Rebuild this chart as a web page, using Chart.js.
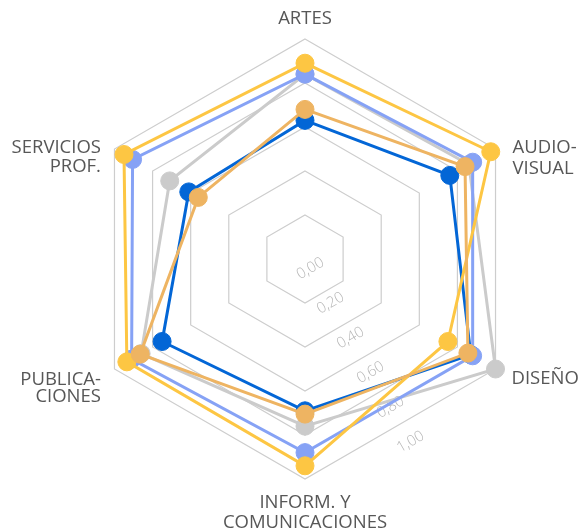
<!DOCTYPE html>
<html>
<head>
<meta charset="utf-8">
<script src="https://cdn.jsdelivr.net/npm/chart.js@4/dist/chart.umd.min.js"></script>
<style>
  body { margin: 0; background: #fff; }
</style>
</head>
<body>
<canvas id="radar" width="578" height="532"></canvas>
<script>
// Axis names, one entry per line of the label
const categories = [
  ['ARTES'],
  ['AUDIO-', 'VISUAL'],
  ['DISEÑO'],
  ['INFORM. Y', 'COMUNICACIONES'],
  ['PUBLICA-', 'CIONES'],
  ['SERVICIOS', 'PROF.']
];
const tickValues = [0, 0.2, 0.4, 0.6, 0.8, 1];

// Index values per sector
const seriesDarkBlue  = [0.63, 0.76, 0.87, 0.69, 0.75, 0.61];
const seriesLightBlue = [0.84, 0.88, 0.88, 0.88, 0.91, 0.905];
const seriesYellow    = [0.89, 0.975, 0.75, 0.94, 0.935, 0.95];
const seriesOrange    = [0.68, 0.84, 0.855, 0.705, 0.865, 0.56];
const seriesGray      = [0.84, 0.86, 1.0, 0.76, 0.86, 0.71];

// Where each axis label sits relative to its outer vertex
const labelLayout = [
  { align: 'center', dx: 0,     baselines: [-15] },
  { align: 'left',   dx: 17,    baselines: [4, 25] },
  { align: 'left',   dx: 16,    baselines: [15] },
  { align: 'center', dx: 0,     baselines: [29, 49] },
  { align: 'right',  dx: -13.5, baselines: [15.5, 33] },
  { align: 'right',  dx: -13.5, baselines: [4, 23] }
];

const labelFont = '18.5px "Open Sans"';
const tickFont = '300 15px "Open Sans"';

function series(color, values, order) {
  return {
    data: values,
    borderColor: color,
    backgroundColor: color,
    pointBackgroundColor: color,
    pointBorderColor: color,
    borderWidth: 3,
    pointRadius: 9,
    pointBorderWidth: 1,
    fill: false,
    order: order
  };
}

// Rotated value labels running down toward the lower right
const tickLabels = {
  id: 'tickLabels',
  beforeDatasetsDraw(chart) {
    const scale = chart.scales.r;
    const ctx = chart.ctx;
    const ang = 150 * Math.PI / 180;
    const dirX = Math.sin(ang), dirY = -Math.cos(ang);
    ctx.save();
    ctx.font = tickFont;
    ctx.fillStyle = '#b5b5b5';
    ctx.textAlign = 'center';
    ctx.textBaseline = 'middle';
    tickValues.forEach(v => {
      const d = scale.getDistanceFromCenterForValue(v) * 0.91 + 11;
      const x = scale.xCenter + dirX * d;
      const y = scale.yCenter + dirY * d;
      ctx.save();
      ctx.translate(x, y);
      ctx.rotate(-Math.PI / 6);
      ctx.fillText(v.toFixed(2).replace('.', ','), 0, 0);
      ctx.restore();
    });
    ctx.restore();
  }
};

// Axis names placed around the outer ring
const axisLabels = {
  id: 'axisLabels',
  afterDraw(chart) {
    const scale = chart.scales.r;
    const ctx = chart.ctx;
    ctx.save();
    ctx.font = labelFont;
    ctx.fillStyle = '#575757';
    ctx.textBaseline = 'alphabetic';
    categories.forEach((lines, i) => {
      const p = scale.getPointPosition(i, scale.drawingArea);
      const lay = labelLayout[i];
      ctx.textAlign = lay.align;
      lines.forEach((txt, k) => {
        ctx.fillText(txt, p.x + lay.dx, p.y + lay.baselines[k]);
      });
    });
    ctx.restore();
  }
};

new Chart(document.getElementById('radar'), {
  type: 'radar',
  data: {
    labels: categories.map(l => l.join(' ')),
    datasets: [
      series('#0366d6', seriesDarkBlue, 4),
      series('#86a2f5', seriesLightBlue, 2),
      series('#fdc643', seriesYellow, 1),
      series('#eeb462', seriesOrange, 0),
      series('#cbcbcb', seriesGray, 3)
    ]
  },
  options: {
    responsive: false,
    animation: false,
    layout: { padding: { left: 85, right: 53, top: 39, bottom: 53 } },
    plugins: {
      legend: { display: false },
      tooltip: { enabled: false }
    },
    elements: { line: { tension: 0 } },
    scales: {
      r: {
        min: 0,
        max: 1,
        ticks: { display: false, stepSize: 0.2 },
        pointLabels: { display: false },
        angleLines: { display: false },
        grid: { color: '#cdcdcd', lineWidth: 1.2 }
      }
    }
  },
  plugins: [tickLabels, axisLabels]
});
</script>
</body>
</html>
